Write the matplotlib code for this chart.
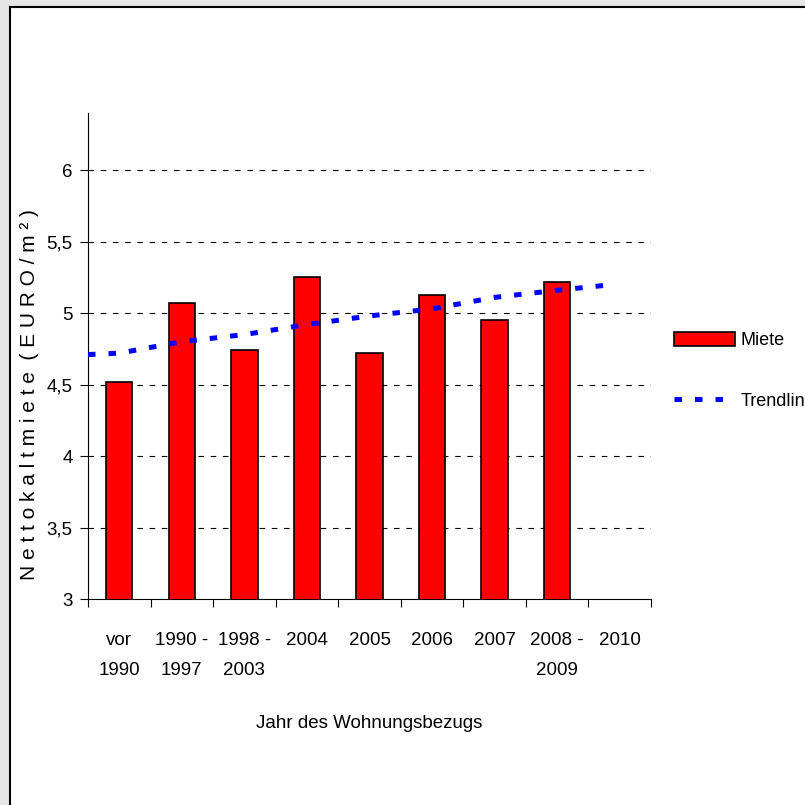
import matplotlib
matplotlib.use("Agg")
import matplotlib.pyplot as plt
from matplotlib.patches import Rectangle
from matplotlib.lines import Line2D
from matplotlib import font_manager

# data
kategorien = ["vor\n1990", "1990 -\n1997", "1998 -\n2003", "2004", "2005",
              "2006", "2007", "2008 -\n2009", "2010"]
miete = [4.52, 5.07, 4.74, 5.25, 4.72, 5.13, 4.95, 5.22]
trend_x = [-0.5, 0, 0.5, 1, 2, 3, 4, 5, 6, 7, 7.9]
trend_y = [4.71, 4.72, 4.76, 4.80, 4.85, 4.92, 4.98, 5.03, 5.11, 5.16, 5.20]
y_ticks = [3, 3.5, 4, 4.5, 5, 5.5, 6]

names = {f.name for f in font_manager.fontManager.ttflist}
fam = "Liberation Sans Narrow" if "Liberation Sans Narrow" in names else "Liberation Sans"
plt.rcParams["font.family"] = [fam, "DejaVu Sans"]
fs = 13.5

fig = plt.figure(figsize=(8.05, 8.05), dpi=100)

# grey strip and frame like the original sheet
fig.patches.append(Rectangle((0, 0), 10 / 805, 1, transform=fig.transFigure,
                             facecolor="#e6e6e6", edgecolor="none", zorder=0))
fig.patches.append(Rectangle((0, 1 - 7 / 805), 1, 7 / 805, transform=fig.transFigure,
                             facecolor="#e6e6e6", edgecolor="none", zorder=0))
fig.lines.append(Line2D([10 / 805, 10 / 805], [0, 1 - 7 / 805], transform=fig.transFigure,
                        color="black", lw=1.5))
fig.lines.append(Line2D([10 / 805, 1], [1 - 7 / 805, 1 - 7 / 805], transform=fig.transFigure,
                        color="black", lw=1.5))

ax = fig.add_axes([88 / 805, 1 - 599 / 805, (651 - 88) / 805, (599 - 113) / 805])

x = list(range(len(miete)))
bars = ax.bar(x, miete, width=0.42, bottom=0, color="#ff0000", edgecolor="black",
              linewidth=1.2, label="Miete", zorder=3)
trend, = ax.plot(trend_x, trend_y, color="#0000ff", lw=3.6, dashes=(1.5, 2.6),
                 label="Trendlinie", zorder=4, dash_capstyle="butt")

for v in y_ticks[1:]:
    ax.axhline(v, color="black", lw=0.8, dashes=(5, 6), zorder=1)

ax.set_xlim(-0.5, len(kategorien) - 0.5)
ax.set_ylim(3, 6.4)
ax.set_yticks(y_ticks)
ax.set_yticklabels([str(v).replace(".", ",").replace(",0", "") for v in y_ticks], fontsize=fs)
ax.set_xticks(range(len(kategorien)))
ax.set_xticklabels(kategorien, fontsize=fs, linespacing=2.0, va="top")
ax.set_xticks([i - 0.5 for i in range(len(kategorien) + 1)], minor=True)
ax.tick_params(axis="x", which="major", length=0, pad=24)
ax.tick_params(axis="x", which="minor", length=6, direction="out", width=0.8)
ax.tick_params(axis="y", length=6, direction="out", width=0.8, pad=5)

for s in ["top", "right"]:
    ax.spines[s].set_visible(False)
ax.spines["left"].set_linewidth(0.8)
ax.spines["bottom"].set_linewidth(0.8)

ax.set_xlabel("Jahr des Wohnungsbezugs", fontsize=fs, labelpad=26)
ax.set_ylabel("N e t t o k a l t m i e t e  ( E U R O / m ² )", fontsize=15)
ax.yaxis.set_label_coords(-0.087, 0.42)

fig.legend([bars, trend], ["Miete", "Trendlinie"], loc="center left",
           bbox_to_anchor=(674 / 805, 1 - 371 / 805), frameon=False,
           fontsize=13, handlelength=3.4, handleheight=0.8, handletextpad=0.3,
           labelspacing=2.4, borderaxespad=0, borderpad=0)

fig.savefig("out.png", dpi=100)
